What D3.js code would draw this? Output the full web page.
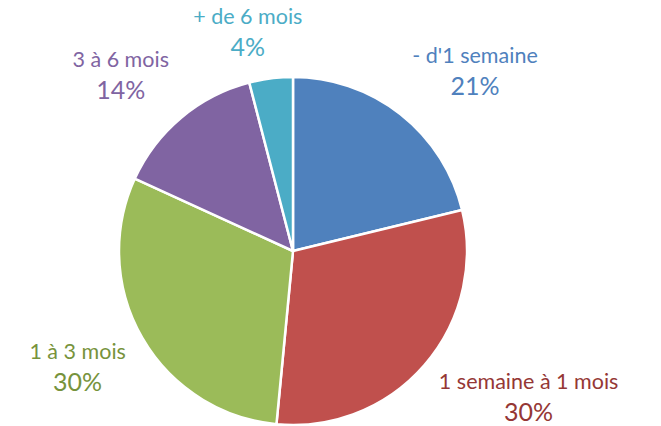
<!DOCTYPE html>
<html lang="fr">
<head>
    <title>Durée</title>
    <meta charset="utf-8">
    <script src="https://d3js.org/d3.v7.min.js"></script>
    <style>
        * {
            margin: 0;
            padding: 0;
        }
        body {
            background-color: white;
            width: 661px;
            height: 426px;
            overflow: hidden;
        }
        text {
            font-family: Lato, "Open Sans", sans-serif;
        }
    </style>
</head>
<body>
<div id="container"></div>
<script>
    const categories = ["- d'1 semaine", "1 semaine à 1 mois", "1 à 3 mois", "3 à 6 mois", "+ de 6 mois"];
    const percents = [21, 30, 30, 14, 4];
    const sliceColors = ["#4F81BD", "#C0504D", "#9BBB59", "#8064A2", "#4BACC6"];
    const textColors = ["#4F81BD", "#953735", "#77933C", "#8064A2", "#4BACC6"];

    const w = 661;
    const h = 426;
    const cx = 293;
    const cy = 251;
    const radius = 174;
    const labelRadius = 193;
    const nameSize = 21.5;
    const pctSize = 25;
    const lineGap = 32;

    const data = categories.map((c, i) => ({ name: c, value: percents[i], i: i }));

    const svg = d3.select("#container")
        .append("svg")
        .attr("width", w)
        .attr("height", h);

    const g = svg.append("g")
        .attr("transform", `translate(${cx}, ${cy})`);

    const pie = d3.pie().sort(null).value(d => d.value);
    const arc = d3.arc().innerRadius(0).outerRadius(radius);
    const arcs = pie(data);

    g.selectAll("path")
        .data(arcs)
        .enter()
        .append("path")
        .attr("d", arc)
        .attr("fill", d => sliceColors[d.data.i])
        .attr("stroke", "white")
        .attr("stroke-width", 2.5)
        .attr("stroke-linejoin", "round");

    const labels = g.selectAll("g.label")
        .data(arcs)
        .enter()
        .append("g")
        .attr("class", "label");

    labels.append("text")
        .attr("text-anchor", "middle")
        .attr("font-size", nameSize)
        .attr("fill", d => textColors[d.data.i])
        .text(d => d.data.name);

    labels.append("text")
        .attr("text-anchor", "middle")
        .attr("y", lineGap)
        .attr("font-size", pctSize)
        .attr("fill", d => textColors[d.data.i])
        .text(d => d.data.value + "%");

    // place the glyph box of each label just outside its slice
    const clamp = v => Math.max(-1, Math.min(1, v));
    labels.each(function(d) {
        const texts = d3.select(this).selectAll("text").nodes();
        const bw = d3.max(texts, t => t.getComputedTextLength());
        const top = -0.72 * nameSize;
        const bh = lineGap - top;
        const a = (d.startAngle + d.endAngle) / 2;
        const px = Math.sin(a) * labelRadius;
        const py = -Math.cos(a) * labelRadius;
        const tx = px + clamp(3 * Math.sin(a)) * bw / 2;
        const ty = py - clamp(3 * Math.cos(a)) * bh / 2 - 4;
        d3.select(this).attr("transform", `translate(${tx}, ${ty - (top + bh / 2)})`);
    });
</script>
</body>
</html>
